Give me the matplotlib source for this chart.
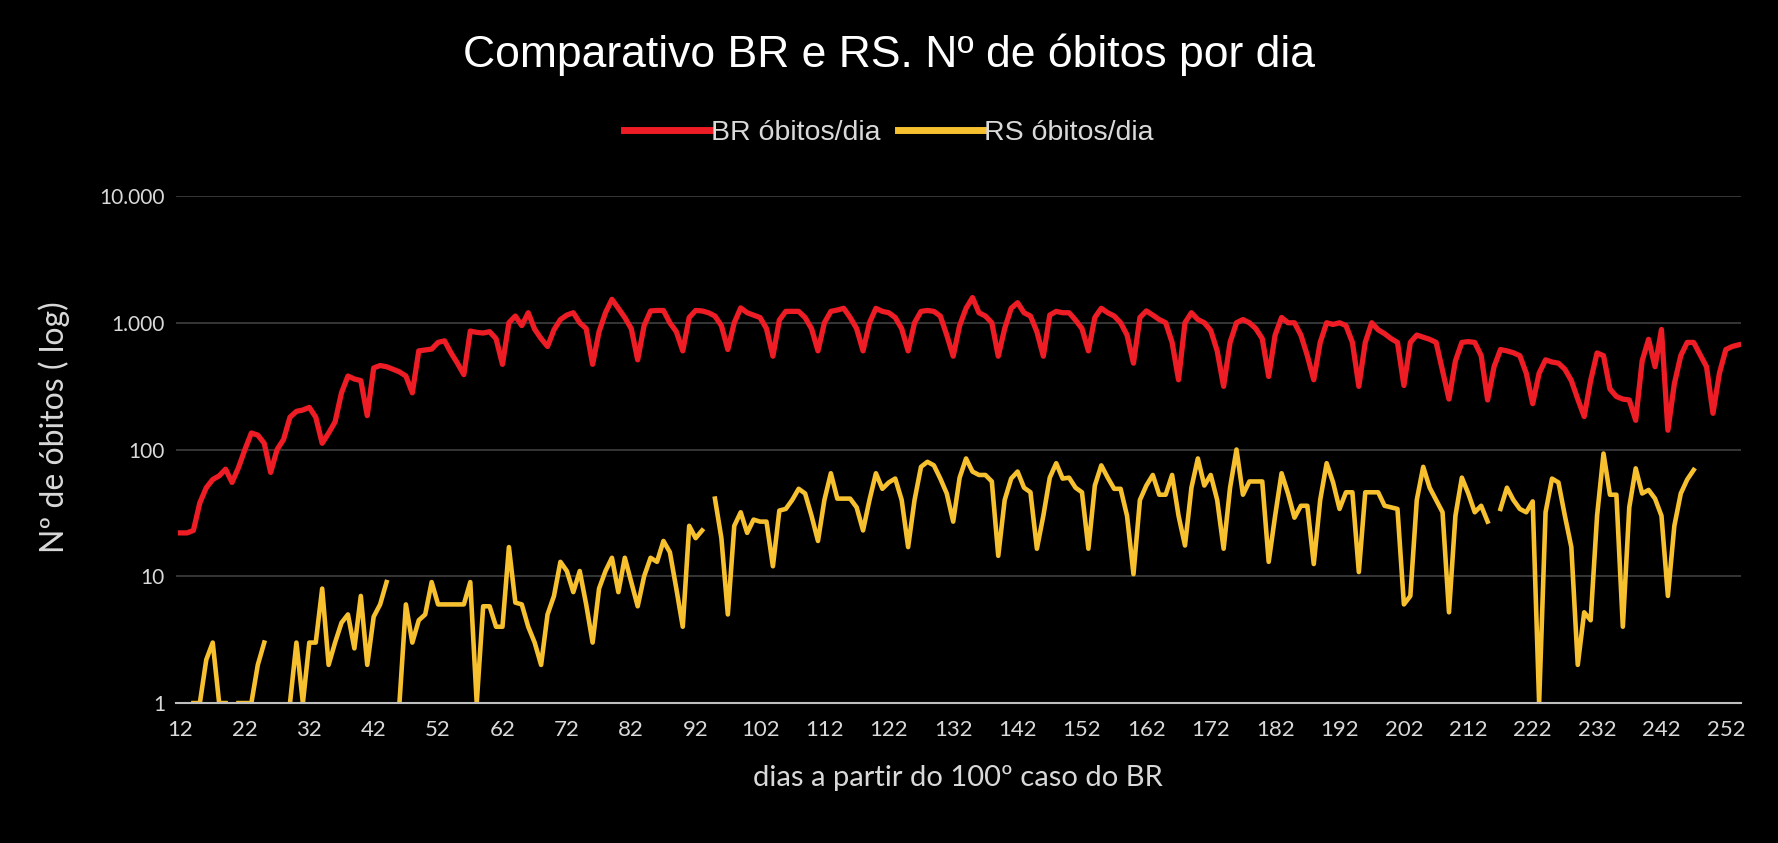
import numpy as np
import matplotlib
matplotlib.use("Agg")
import matplotlib.pyplot as plt
from matplotlib.ticker import FixedLocator, NullLocator

nan = np.nan

days_br = list(range(12, 255))
br_obitos = [
    22, 22, 23, 38, 50, 58, 62, 70, 55, 72,           # 12-21
    100, 135, 130, 112, 66, 100, 120, 180, 200, 205,  # 22-31
    215, 180, 112, 135, 165, 280, 380, 360, 350, 185, # 32-41
    440, 460, 450, 430, 410, 380, 280, 600, 610, 620, # 42-51
    700, 720, 580, 480, 390, 860, 840, 830, 850, 750, # 52-61
    470, 1000, 1130, 950, 1200, 890, 750, 650, 880, 1060,  # 62-71
    1150, 1200, 1000, 900, 470, 850, 1200, 1530, 1300, 1100,  # 72-81
    900, 510, 950, 1240, 1250, 1250, 1000, 850, 600, 1100,  # 82-91
    1250, 1240, 1200, 1130, 950, 615, 1000, 1310, 1200, 1150,  # 92-101
    1100, 900, 545, 1050, 1230, 1230, 1230, 1100, 900, 600,  # 102-111
    1000, 1230, 1260, 1300, 1100, 900, 600, 1000, 1300, 1230,  # 112-121
    1200, 1100, 900, 600, 1000, 1230, 1250, 1230, 1130, 800,  # 122-131
    545, 950, 1300, 1580, 1200, 1130, 1000, 545, 900, 1300,  # 132-141
    1440, 1200, 1130, 850, 545, 1150, 1230, 1200, 1200, 1050,  # 142-151
    900, 600, 1100, 1300, 1200, 1130, 1000, 800, 480, 1100,  # 152-161
    1240, 1150, 1060, 1000, 700, 355, 1000, 1200, 1060, 1000,  # 162-171
    870, 600, 315, 700, 1000, 1060, 1000, 900, 750, 377,  # 172-181
    800, 1100, 1000, 1000, 800, 550, 355, 700, 1000, 970,  # 182-191
    1000, 950, 700, 315, 700, 1000, 880, 820, 750, 700,  # 192-201
    320, 700, 800, 770, 740, 700, 420, 250, 500, 700,  # 202-211
    710, 700, 550, 246, 450, 615, 600, 580, 550, 400,  # 212-221
    230, 400, 510, 490, 480, 430, 350, 250, 182, 350,  # 222-231
    578, 550, 300, 262, 250, 246, 170, 500, 740, 450,  # 232-241
    885, 142, 330, 550, 700, 700, 560, 450, 193, 400,  # 242-251
    615, 650, 670,                                     # 252-254
]

days_rs = list(range(12, 248))
rs_obitos = [
    nan, nan, 1, 1, 2.2, 3, 1, 1, nan, 1,             # 12-21
    1, 1, 2, 3, nan, nan, nan, 1, 3, 1,               # 22-31
    3, 3, 8, 2, 3, 4.3, 5, 2.7, 7, 2,                 # 32-41
    4.8, 6, 9, nan, 1, 6, 3, 4.5, 5, 9,               # 42-51
    6, 6, 6, 6, 6, 9, 1, 5.8, 5.8, 4,                 # 52-61
    4, 17, 6.2, 6, 4, 3, 2, 5, 7, 13,                 # 62-71
    11, 7.5, 11, 6, 3, 8, 11, 14, 7.5, 14,            # 72-81
    9, 5.8, 10, 14, 13, 19, 15.5, 8, 4, 25,           # 82-91
    20, 23, nan, 41, 20, 5, 25, 32, 22, 28,           # 92-101
    27, 27, 12, 33, 34, 40, 49, 45, 30, 19,           # 102-111
    40, 65, 41, 41, 41, 35, 23, 40, 65, 49,           # 112-121
    55, 59, 40, 17, 40, 73, 80, 75, 59, 45,           # 122-131
    27, 60, 85, 67, 63, 63, 56, 14.5, 40, 59,         # 132-141
    67, 50, 46, 16.5, 30, 60, 78, 59, 60, 50,         # 142-151
    46, 16.5, 52, 75, 60, 49, 49, 30, 10.4, 40,       # 152-161
    52, 63, 44, 44, 63, 30, 17.5, 50, 85, 52,         # 162-171
    63, 40, 16.5, 50, 100, 44, 56, 56, 56, 13,        # 172-181
    30, 65, 45, 29, 36, 36, 12.5, 40, 78, 55,         # 182-191
    34, 46, 46, 10.8, 46, 46, 46, 36, 35, 34,         # 192-201
    6, 7, 40, 73, 50, 40, 32, 5.2, 30, 60,            # 202-211
    45, 32, 36, 27, nan, 34, 50, 40, 34, 32,          # 212-221
    39, 1, 32, 59, 55, 30, 17, 2, 5.2, 4.5,           # 222-231
    30, 93, 44, 44, 4, 35, 71, 45, 48, 41,            # 232-241
    30, 7, 25, 45, 58, 69,                            # 242-247
]
rs_obitos = rs_obitos[:len(days_rs)]

x_ticks = list(range(12, 253, 10))
y_ticks = [1, 10, 100, 1000, 10000]
y_tick_labels = ["1", "10", "100", "1.000", "10.000"]

title = "Comparativo BR e RS. Nº de óbitos por dia"
label_br = "BR óbitos/dia"
label_rs = "RS óbitos/dia"
xlabel = "dias a partir do 100º caso do BR"
ylabel = "Nº de óbitos ( log)"

RED = "#EE1C24"
YELLOW = "#F6C02F"
TXT = "#D9D9D9"
narrow = ["Liberation Sans", "DejaVu Sans"]
tickfont = ["Lato", "DejaVu Sans"]

fig = plt.figure(figsize=(17.78, 8.43), dpi=100, facecolor="black")
ax = fig.add_axes([0.099, 0.166, 0.88, 0.6015], facecolor="black")

ax.plot(days_br, br_obitos, color=RED, lw=3.8, label=label_br, solid_joinstyle="round")
ax.plot(days_rs, rs_obitos, color=YELLOW, lw=3.3, label=label_rs, solid_joinstyle="round")

ax.set_yscale("log")
ax.set_ylim(1, 10000)
ax.set_xlim(11.3, 254.3)
ax.yaxis.set_major_locator(FixedLocator(y_ticks))
ax.yaxis.set_minor_locator(NullLocator())
ax.set_yticklabels(y_tick_labels)
ax.set_xticks(x_ticks)
ax.set_xticklabels([str(t) for t in x_ticks])

for s in ["top", "right", "left"]:
    ax.spines[s].set_visible(False)
ax.spines["bottom"].set_color("#BFBFBF")
ax.spines["bottom"].set_linewidth(1.5)
ax.grid(axis="y", color="#3F3F3F", lw=1.2)
ax.set_axisbelow(True)
ax.tick_params(axis="x", length=0, colors=TXT, labelsize=16, pad=12)
ax.tick_params(axis="y", length=0, colors=TXT, labelsize=15, pad=8)
for lab in ax.get_xticklabels() + ax.get_yticklabels():
    lab.set_family(tickfont)

ax.set_xlabel(xlabel, color=TXT, fontsize=21, family=tickfont, labelpad=18)
ax.set_ylabel(ylabel, color=TXT, fontsize=23, family=tickfont)
ax.yaxis.set_label_coords(-0.068, 0.545)

fig.text(0.5, 0.935, title, ha="center", va="center", color="white",
         fontsize=32, family=narrow)
leg = fig.legend(loc="center", bbox_to_anchor=(0.5, 0.842), ncol=2,
                 frameon=False, handlelength=3.0, columnspacing=0.6,
                 handletextpad=0.05, prop={"family": narrow, "size": 20.5})
for t in leg.get_texts():
    t.set_color(TXT)
for h in leg.get_lines():
    h.set_linewidth(5)

fig.savefig("out.png", dpi=100, facecolor="black")
